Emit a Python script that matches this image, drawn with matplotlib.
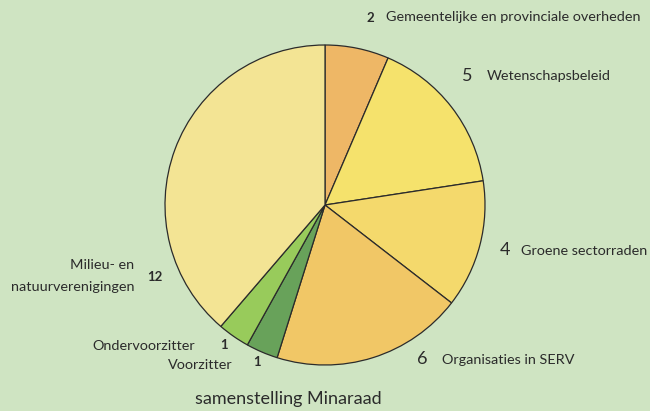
import matplotlib
matplotlib.use("Agg")
import matplotlib.pyplot as plt

# samenstelling Minaraad
labels = ["Gemeentelijke en provinciale overheden", "Wetenschapsbeleid",
          "Groene sectorraden", "Organisaties in SERV", "Voorzitter",
          "Ondervoorzitter", "Milieu- en\nnatuurverenigingen"]
values = [2, 5, 4, 6, 1, 1, 12]
colors = ["#eeb766", "#f5e26c", "#f4d96c", "#f1c766", "#68a25a",
          "#98cb5b", "#f3e494"]
title = "samenstelling Minaraad"

plt.rcParams['font.family'] = ['Lato', 'DejaVu Sans']
bg = "#cfe4c2"
ink = "#2b2b2b"
H = 411

fig = plt.figure(figsize=(6.5, 4.11), dpi=100, facecolor=bg)
ax = fig.add_axes([0, 0, 1, 1], facecolor=bg)

wedges, _ = ax.pie(values, colors=colors, startangle=90, counterclock=False,
                   center=(325, H - 205), radius=160, frame=True,
                   wedgeprops=dict(edgecolor=ink, linewidth=0.9))
ax.set_xlim(0, 650)
ax.set_ylim(0, H)
ax.set_aspect('equal')
ax.axis('off')

big = dict(fontsize=13, color=ink)
small = dict(fontsize=9.5, color=ink, fontweight='bold')
lab = dict(fontsize=10.4, color=ink)


def put(x, y, s, **kw):
    # positions given in pixels from the top-left corner
    ax.text(x, H - y, s, va='center', **kw)


put(370, 18, str(values[0]), ha='center', **small)
put(386, 17, labels[0], ha='left', **lab)
put(467, 76, str(values[1]), ha='center', **big)
put(487, 76, labels[1], ha='left', **lab)
put(505, 250, str(values[2]), ha='center', **big)
put(521, 251, labels[2], ha='left', **lab)
put(422, 359, str(values[3]), ha='center', **big)
put(442, 360, labels[3], ha='left', **lab)
put(257, 362, str(values[4]), ha='center', **small)
put(233, 365, labels[4], ha='right', **lab)
put(224, 345, str(values[5]), ha='center', **small)
put(195, 346, labels[5], ha='right', **lab)
put(155, 277, str(values[6]), ha='center', **small)
put(134, 276, labels[6], ha='right', linespacing=1.95, **lab)

put(288, 399, title, ha='center', fontsize=13, color=ink)

fig.savefig("out.png", dpi=100, facecolor=bg)
